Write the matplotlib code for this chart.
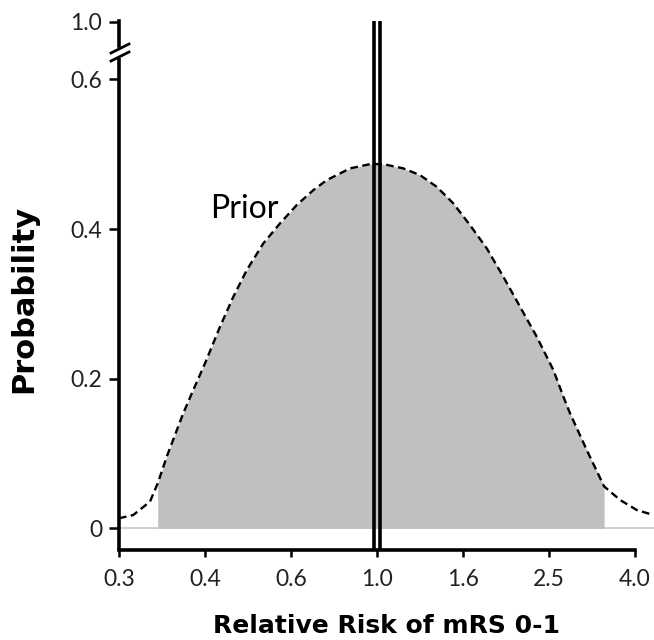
import matplotlib
matplotlib.use("Agg")
import matplotlib.pyplot as plt
from matplotlib.lines import Line2D

plt.rcParams['font.family'] = ['Lato', 'DejaVu Sans']
plt.rcParams['lines.scale_dashes'] = False

# ---- data ----
tick_labels = ["0.3", "0.4", "0.6", "1.0", "1.6", "2.5", "4.0"]
y_tick_values = [0, 0.2, 0.4, 0.6]
y_tick_labels = ["0", "0.2", "0.4", "0.6"]
top_tick_label = "1.0"

# position along the relative-risk axis (in tick units: 0 -> 0.3, 6 -> 4.0)
prior_pos = [0.0, 0.166, 0.36, 0.45, 0.555, 0.748, 0.845, 1.0, 1.174, 1.329,
             1.485, 1.678, 1.872, 2.066, 2.26, 2.415, 2.686, 2.919, 3.073,
             3.306, 3.5, 3.694, 3.887, 4.081, 4.276, 4.469, 4.663, 4.857,
             5.05, 5.167, 5.244, 5.438, 5.64, 5.826, 6.02, 6.213]
prior_prob = [0.0134, 0.0178, 0.0356, 0.060, 0.0957, 0.154, 0.180, 0.2204,
              0.2693, 0.3094, 0.345, 0.3808, 0.4075, 0.432, 0.452, 0.4653,
              0.481, 0.4867, 0.4867, 0.481, 0.472, 0.4564, 0.4342, 0.4052,
              0.374, 0.336, 0.296, 0.256, 0.2115, 0.1758, 0.1536, 0.1046,
              0.056, 0.0378, 0.0244, 0.0178]
fill_start = 0.45
fill_end = 5.64
null_pos = 3.0          # RR = 1.0
prior_label = "Prior"
x_title = "Relative Risk of mRS 0-1"
y_title = "Probability"

W, H = 654, 640
fig = plt.figure(figsize=(W / 100, H / 100), dpi=100)

def fx(px):
    return px / W

def fy(py):
    return 1 - py / H

ax = fig.add_axes([fx(119), fy(550), fx(654) - fx(119), fy(18) - fy(550)])
ax.set_xlim(0, 6.22)
ax.set_ylim(-0.029, 0.682)

# baseline at zero
ax.axhline(0, color="#c8c8c8", lw=1.2, zorder=1)

# shaded area
mask = [(fill_start <= p <= fill_end) for p in prior_pos]
ax.fill_between(prior_pos, 0, prior_prob, where=mask, color="#c0c0c0", lw=0, zorder=2)

# dashed prior curve
ax.plot(prior_pos, prior_prob, color="black", lw=1.7, dashes=(5.5, 3.2), zorder=3)

# 1.0 tick position at the axis break
top_tick_y = 0.6768

# double vertical line at RR=1.0
for off in (-0.04, 0.04):
    ax.plot([null_pos + off, null_pos + off], [-0.029, top_tick_y + 0.0012],
            color="black", lw=2.6, solid_capstyle="butt", zorder=4, clip_on=False)

ax.text(1.058, 0.4146, prior_label, fontsize=23, ha="left", va="baseline", zorder=5)

# axes styling
for s in ("top", "right"):
    ax.spines[s].set_visible(False)
ax.spines["left"].set_linewidth(2.6)
ax.spines["bottom"].set_linewidth(2.6)
ax.spines["left"].set_bounds(-0.029, 0.628)
ax.spines["bottom"].set_bounds(0, 6)
ax.spines["left"].set_capstyle("butt")

ax.set_xticks(range(len(tick_labels)))
ax.set_xticklabels(tick_labels)
ax.set_yticks(y_tick_values + [top_tick_y])
ax.set_yticklabels(y_tick_labels + [top_tick_label])
ax.tick_params(axis="y", direction="out", length=7, width=1.8, labelsize=16.5, pad=5)
ax.tick_params(axis="x", direction="out", length=5, width=1.8, labelsize=16.5, pad=9)
for lab in ax.get_xticklabels() + ax.get_yticklabels():
    lab.set_color("#222222")

# upper spine segment above the break
ax.add_line(Line2D([0, 0], [0.6444, top_tick_y + 0.001], color="black", lw=2.6,
                   transform=ax.get_yaxis_transform(), clip_on=False, zorder=6))

# break marks
for dy in (0, 8):
    fig.add_artist(Line2D([fx(111), fx(129)], [fy(53 + dy), fy(44 + dy)],
                          color="black", lw=2.0, transform=fig.transFigure))

fig.text(fx(386.7), fy(633), x_title, fontsize=18, fontweight="bold",
         family=["DejaVu Sans"], ha="center", va="baseline")
fig.text(fx(32), fy(298.7), y_title, fontsize=22, fontweight="bold",
         family=["DejaVu Sans"], ha="center", va="baseline", rotation=90,
         rotation_mode="anchor")

fig.savefig("out.png", dpi=100)
